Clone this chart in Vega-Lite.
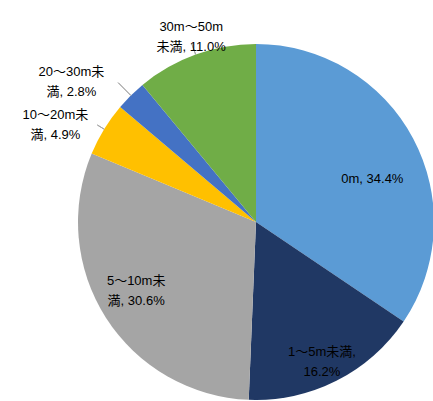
{
  "$schema": "https://vega.github.io/schema/vega-lite/v6.json",
  "width": 356,
  "height": 356,
  "autosize": {"type": "none"},
  "padding": {"left": 78, "top": 44, "right": 0, "bottom": 0},
  "background": "white",
  "config": {"view": {"stroke": null}},
  "data": {
    "values": [
      {"cat": "0m", "pct": 34.4, "order": 1, "label": "0m, 34.4%"},
      {"cat": "1～5m未満", "pct": 16.2, "order": 2, "label": "1～5m未満,\n16.2%"},
      {"cat": "5～10m未満", "pct": 30.6, "order": 3, "label": "5～10m未\n満, 30.6%"},
      {"cat": "10～20m未満", "pct": 4.9, "order": 4, "label": "10～20m未\n満, 4.9%"},
      {"cat": "20～30m未満", "pct": 2.8, "order": 5, "label": "20～30m未\n満, 2.8%"},
      {"cat": "30m～50m未満", "pct": 11.0, "order": 6, "label": "30m～50m\n未満, 11.0%"}
    ]
  },
  "encoding": {
    "theta": {"field": "pct", "type": "quantitative", "stack": true},
    "order": {"field": "order", "type": "quantitative"},
    "detail": {"field": "cat", "type": "nominal"}
  },
  "layer": [
    {
      "mark": {"type": "arc"},
      "encoding": {
        "color": {
          "field": "cat",
          "type": "nominal",
          "scale": {
            "domain": ["0m", "1～5m未満", "5～10m未満", "10～20m未満", "20～30m未満", "30m～50m未満"],
            "range": ["#5B9BD5", "#203864", "#A5A5A5", "#FFC000", "#4472C4", "#70AD47"]
          },
          "legend": null
        }
      }
    },
    {
      "mark": {"type": "arc", "radius": 186, "radius2": 178, "padAngle": 1.2, "fillOpacity": 0, "stroke": "#A6A6A6", "strokeWidth": 1},
      "encoding": {"strokeOpacity": {"condition": {"test": "datum.cat === '10～20m未満'", "value": 1}, "value": 0}}
    },
    {
      "mark": {"type": "arc", "radius": 196, "radius2": 178, "padAngle": 1.2, "fillOpacity": 0, "stroke": "#A6A6A6", "strokeWidth": 1},
      "encoding": {"strokeOpacity": {"condition": {"test": "datum.cat === '20～30m未満'", "value": 1}, "value": 0}}
    },
    {
      "mark": {"type": "arc", "radius": 189, "radius2": 178, "padAngle": 1.2, "fillOpacity": 0, "stroke": "#A6A6A6", "strokeWidth": 1},
      "encoding": {"strokeOpacity": {"condition": {"test": "datum.cat === '30m～50m未満'", "value": 1}, "value": 0}}
    },
    {
      "mark": {"type": "text", "radius": 125, "dx": 6, "dy": 16, "fontSize": 13, "lineHeight": 20, "lineBreak": "\n", "font": "Liberation Sans, Arial, Noto Sans CJK JP, sans-serif", "color": "#000000", "align": "center", "baseline": "middle"},
      "encoding": {"text": {"condition": {"test": "datum.cat === '0m'", "field": "label"}, "value": ""}}
    },
    {
      "mark": {"type": "text", "radius": 146, "dx": 0, "dy": 0, "fontSize": 13, "lineHeight": 20, "lineBreak": "\n", "font": "Liberation Sans, Arial, Noto Sans CJK JP, sans-serif", "color": "#000000", "align": "center", "baseline": "middle"},
      "encoding": {"text": {"condition": {"test": "datum.cat === '1～5m未満'", "field": "label"}, "value": ""}}
    },
    {
      "mark": {"type": "text", "radius": 135, "dx": -6, "dy": -14, "fontSize": 13, "lineHeight": 20, "lineBreak": "\n", "font": "Liberation Sans, Arial, Noto Sans CJK JP, sans-serif", "color": "#000000", "align": "center", "baseline": "middle"},
      "encoding": {"text": {"condition": {"test": "datum.cat === '5～10m未満'", "field": "label"}, "value": ""}}
    },
    {
      "mark": {"type": "text", "radius": 200, "dx": -30, "dy": -3, "fontSize": 13, "lineHeight": 20, "lineBreak": "\n", "font": "Liberation Sans, Arial, Noto Sans CJK JP, sans-serif", "color": "#000000", "align": "center", "baseline": "middle"},
      "encoding": {"text": {"condition": {"test": "datum.cat === '10～20m未満'", "field": "label"}, "value": ""}}
    },
    {
      "mark": {"type": "text", "radius": 200, "dx": -44, "dy": -8, "fontSize": 13, "lineHeight": 20, "lineBreak": "\n", "font": "Liberation Sans, Arial, Noto Sans CJK JP, sans-serif", "color": "#000000", "align": "center", "baseline": "middle"},
      "encoding": {"text": {"condition": {"test": "datum.cat === '20～30m未満'", "field": "label"}, "value": ""}}
    },
    {
      "mark": {"type": "text", "radius": 200, "dx": 3, "dy": -7, "fontSize": 13, "lineHeight": 20, "lineBreak": "\n", "font": "Liberation Sans, Arial, Noto Sans CJK JP, sans-serif", "color": "#000000", "align": "center", "baseline": "middle"},
      "encoding": {"text": {"condition": {"test": "datum.cat === '30m～50m未満'", "field": "label"}, "value": ""}}
    }
  ]
}
